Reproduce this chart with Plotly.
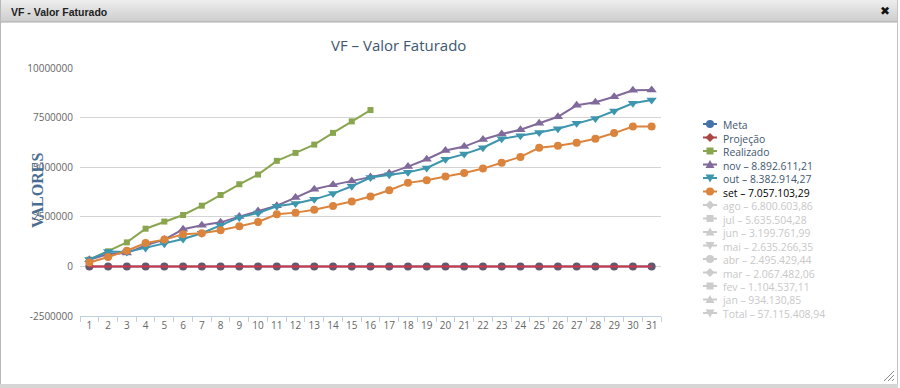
import plotly.graph_objects as go

W, H = 900, 388

days = [str(d) for d in range(1, 32)]

meta = [0, 0, 0, 0, 0, 0, 0, 0, 0, 0, 0, 0, 0, 0, 0, 0,
        0, 0, 0, 0, 0, 0, 0, 0, 0, 0, 0, 0, 0, 0, 0]
projecao = [0, 0, 0, 0, 0, 0, 0, 0, 0, 0, 0, 0, 0, 0, 0, 0,
            0, 0, 0, 0, 0, 0, 0, 0, 0, 0, 0, 0, 0, 0, 0]
realizado = [340000, 760000, 1210000, 1900000, 2260000, 2590000, 3060000, 3600000,
             4140000, 4630000, 5320000, 5720000, 6140000, 6730000, 7310000, 7880000]
nov = [330000, 620000, 670000, 1060000, 1350000, 1870000, 2070000, 2220000,
       2510000, 2790000, 3060000, 3470000, 3890000, 4110000, 4310000, 4510000,
       4700000, 5030000, 5400000, 5840000, 6040000, 6400000, 6670000, 6890000,
       7210000, 7540000, 8120000, 8270000, 8550000, 8880000, 8892611]
out = [350000, 750000, 720000, 930000, 1140000, 1380000, 1670000, 2070000,
       2470000, 2690000, 3030000, 3170000, 3380000, 3670000, 4040000, 4480000,
       4620000, 4740000, 4960000, 5400000, 5660000, 5980000, 6430000, 6580000,
       6750000, 6940000, 7210000, 7460000, 7830000, 8220000, 8382914]
setm = [200000, 470000, 790000, 1180000, 1350000, 1620000, 1670000, 1820000,
        2020000, 2240000, 2630000, 2710000, 2860000, 3050000, 3270000, 3520000,
        3840000, 4210000, 4340000, 4530000, 4710000, 4930000, 5220000, 5520000,
        5980000, 6080000, 6230000, 6430000, 6720000, 7050000, 7057103]

y_ticks = [-2500000, 0, 2500000, 5000000, 7500000, 10000000]
y_ticktext = ["-2500000", "0", "2500000", "5000000", "7500000", "10000000"]

legend_names = ["Meta", "Projeção", "Realizado", "nov", "out", "set", "ago", "jul",
                "jun", "mai", "abr", "mar", "fev", "jan", "Total"]
legend_totals = [None, None, None, "8.892.611,21", "8.382.914,27", "7.057.103,29",
                 "6.800.603,86", "5.635.504,28", "3.199.761,99", "2.635.266,35",
                 "2.495.429,44", "2.067.482,06", "1.104.537,11", "934.130,85",
                 "57.115.408,94"]
legend_visible = [True, True, True, True, True, True, False, False, False, False,
                  False, False, False, False, False]
legend_symbols = ["circle", "diamond", "square", "triangle-up", "triangle-down", "circle",
                  "diamond", "square", "triangle-up", "triangle-down", "circle",
                  "diamond", "square", "triangle-up", "triangle-down"]

C_META, C_PROJ, C_REAL = "#4572A7", "#AA4643", "#89A54E"
C_NOV, C_OUT, C_SET = "#80699B", "#3D96AE", "#DB843D"
legend_colors = [C_META, C_PROJ, C_REAL, C_NOV, C_OUT, C_SET] + ["#cccccc"] * 9

FONT = "Open Sans"

def px(x):
    return x / W

def py(y):
    return 1 - y / H

fig = go.Figure()

fig.add_trace(go.Scatter(x=days, y=meta, mode="lines+markers", name="Meta",
                         line=dict(color=C_META, width=2),
                         marker=dict(symbol="circle", size=8, color="#62586f")))
fig.add_trace(go.Scatter(x=days, y=projecao, mode="lines", name="Projeção",
                         line=dict(color="#d2364a", width=2)))
fig.add_trace(go.Scatter(x=days[:len(realizado)], y=realizado, mode="lines+markers",
                         name="Realizado", line=dict(color=C_REAL, width=2),
                         marker=dict(symbol="square", size=6, color=C_REAL)))
fig.add_trace(go.Scatter(x=days, y=nov, mode="lines+markers", name="nov",
                         line=dict(color=C_NOV, width=2),
                         marker=dict(symbol="triangle-up", size=9, color=C_NOV)))
fig.add_trace(go.Scatter(x=days, y=out, mode="lines+markers", name="out",
                         line=dict(color=C_OUT, width=2),
                         marker=dict(symbol="triangle-down", size=9, color=C_OUT)))
fig.add_trace(go.Scatter(x=days, y=setm, mode="lines+markers", name="set",
                         line=dict(color=C_SET, width=2),
                         marker=dict(symbol="circle", size=8, color=C_SET)))

shapes = []
annotations = []

# window header bar (gradient)
grad = ["#ececec", "#e9e9e9", "#e6e6e6", "#e3e3e3", "#e0e0e0", "#dddddd",
        "#dadada", "#d7d7d7", "#d4d4d4", "#d1d1d1", "#cecece"]
for i, c in enumerate(grad):
    shapes.append(dict(type="rect", xref="paper", yref="paper", x0=0, x1=px(898),
                       y0=py(i * 2 + 2), y1=py(i * 2), fillcolor=c, line=dict(width=0),
                       layer="below"))
shapes.append(dict(type="line", xref="paper", yref="paper", x0=0, x1=px(898),
                   y0=py(22), y1=py(22), line=dict(color="#a9a9a9", width=1)))
# window borders
shapes.append(dict(type="line", xref="paper", yref="paper", x0=px(0.5), x1=px(0.5),
                   y0=py(0), y1=py(385), line=dict(color="#b8b8b8", width=1)))
shapes.append(dict(type="line", xref="paper", yref="paper", x0=px(897.5), x1=px(897.5),
                   y0=py(0), y1=py(385), line=dict(color="#c4c4c4", width=1)))
shapes.append(dict(type="rect", xref="paper", yref="paper", x0=0, x1=px(898),
                   y0=py(388), y1=py(384), fillcolor="#d6d6d6", line=dict(width=0)))
# resize grip
for k in range(3):
    o = k * 4
    shapes.append(dict(type="line", xref="paper", yref="paper",
                       x0=px(884 + o), y0=py(381), x1=px(894), y1=py(371 + o),
                       line=dict(color="#8a8a8a", width=1)))

annotations.append(dict(text="<b>VF - Valor Faturado</b>", x=px(9), y=py(12),
                        xref="paper", yref="paper", xanchor="left", yanchor="middle",
                        showarrow=False,
                        font=dict(family="Liberation Sans", size=10.5, color="#222222")))
annotations.append(dict(text="✖", x=px(885), y=py(11), xref="paper", yref="paper",
                        xanchor="center", yanchor="middle", showarrow=False,
                        font=dict(family="DejaVu Sans", size=12, color="#111111")))

# chart title
annotations.append(dict(text="VF – Valor Faturado", x=px(398), y=py(45), xref="paper",
                        yref="paper", xanchor="center", yanchor="middle", showarrow=False,
                        font=dict(family=FONT, size=15, color="#3E576F")))
# y-axis title
annotations.append(dict(text="<b>VALORES</b>", x=px(37), y=py(191), xref="paper",
                        yref="paper", xanchor="center", yanchor="middle", showarrow=False,
                        textangle=-90,
                        font=dict(family="Liberation Serif", size=16, color="#4a6d94")))

# manual legend (symbols as shapes, labels as one multi-line text block)
def marker_shape(sym, cx, cy, color):
    if sym == "circle":
        r = 4
        return dict(type="circle", xref="paper", yref="paper", x0=px(cx - r), x1=px(cx + r),
                    y0=py(cy + r), y1=py(cy - r), fillcolor=color, line=dict(width=0))
    if sym == "square":
        r = 3.5
        pts = [(cx - r, cy - r), (cx + r, cy - r), (cx + r, cy + r), (cx - r, cy + r)]
    elif sym == "diamond":
        r = 4.5
        pts = [(cx, cy - r), (cx + r, cy), (cx, cy + r), (cx - r, cy)]
    elif sym == "triangle-up":
        r = 4.5
        pts = [(cx, cy - r), (cx + r, cy + r * 0.8), (cx - r, cy + r * 0.8)]
    else:
        r = 4.5
        pts = [(cx, cy + r), (cx + r, cy - r * 0.8), (cx - r, cy - r * 0.8)]
    path = "M " + " L ".join(f"{px(a):.6f},{py(b):.6f}" for a, b in pts) + " Z"
    return dict(type="path", xref="paper", yref="paper", path=path, fillcolor=color,
                line=dict(width=0))

LEG_Y0, LEG_DY = 124, 13.5
lines = []
for i, name in enumerate(legend_names):
    cy = LEG_Y0 + i * LEG_DY
    col = legend_colors[i]
    shapes.append(dict(type="line", xref="paper", yref="paper", x0=px(703), x1=px(717),
                       y0=py(cy), y1=py(cy), line=dict(color=col, width=2)))
    shapes.append(marker_shape(legend_symbols[i], 710, cy, col))
    label = name if legend_totals[i] is None else f"{name} – {legend_totals[i]}"
    if not legend_visible[i]:
        tcol = "#c8c8c8"
    elif name == "set":
        tcol = "#000000"
    else:
        tcol = "#3E576F"
    lines.append(f"<span style='color:{tcol}'>{label}</span>")

n = len(legend_names)
mid = LEG_Y0 + (n - 1) * LEG_DY / 2
annotations.append(dict(text="<br>".join(lines), x=px(721), y=py(mid + 1), xref="paper",
                        yref="paper", xanchor="left", yanchor="middle", align="left",
                        showarrow=False, borderpad=0,
                        font=dict(family=FONT, size=LEG_DY / 1.3, color="#3E576F")))

fig.update_layout(
    width=W, height=H,
    margin=dict(l=0, r=0, t=0, b=0, autoexpand=False),
    paper_bgcolor="white", plot_bgcolor="white",
    showlegend=False,
    shapes=shapes, annotations=annotations,
    xaxis=dict(domain=[px(80), px(661)], type="category", tickson="boundaries",
               range=[-0.5, len(days) - 0.5], autorange=False,
               ticks="outside", ticklen=5, tickcolor="#C0D0E0", showline=True,
               linecolor="#C0D0E0", showgrid=False, zeroline=False, tickangle=0,
               automargin=False,
               tickfont=dict(family=FONT, size=10, color="#666666"),
               anchor="y"),
    yaxis=dict(domain=[py(316), py(68)], range=[-2500000, 10000000],
               tickmode="array", tickvals=y_ticks, ticktext=y_ticktext,
               showgrid=True, gridcolor="#d4d4d4", gridwidth=1, zeroline=False,
               showline=False, ticks="", automargin=False, ticklabelstandoff=6,
               tickfont=dict(family=FONT, size=10, color="#666666")),
)

fig.write_html("out.html", config={"displayModeBar": False},
               post_script="document.body.style.margin='0';document.body.style.padding='0';"
                           "document.body.style.overflow='hidden';")
